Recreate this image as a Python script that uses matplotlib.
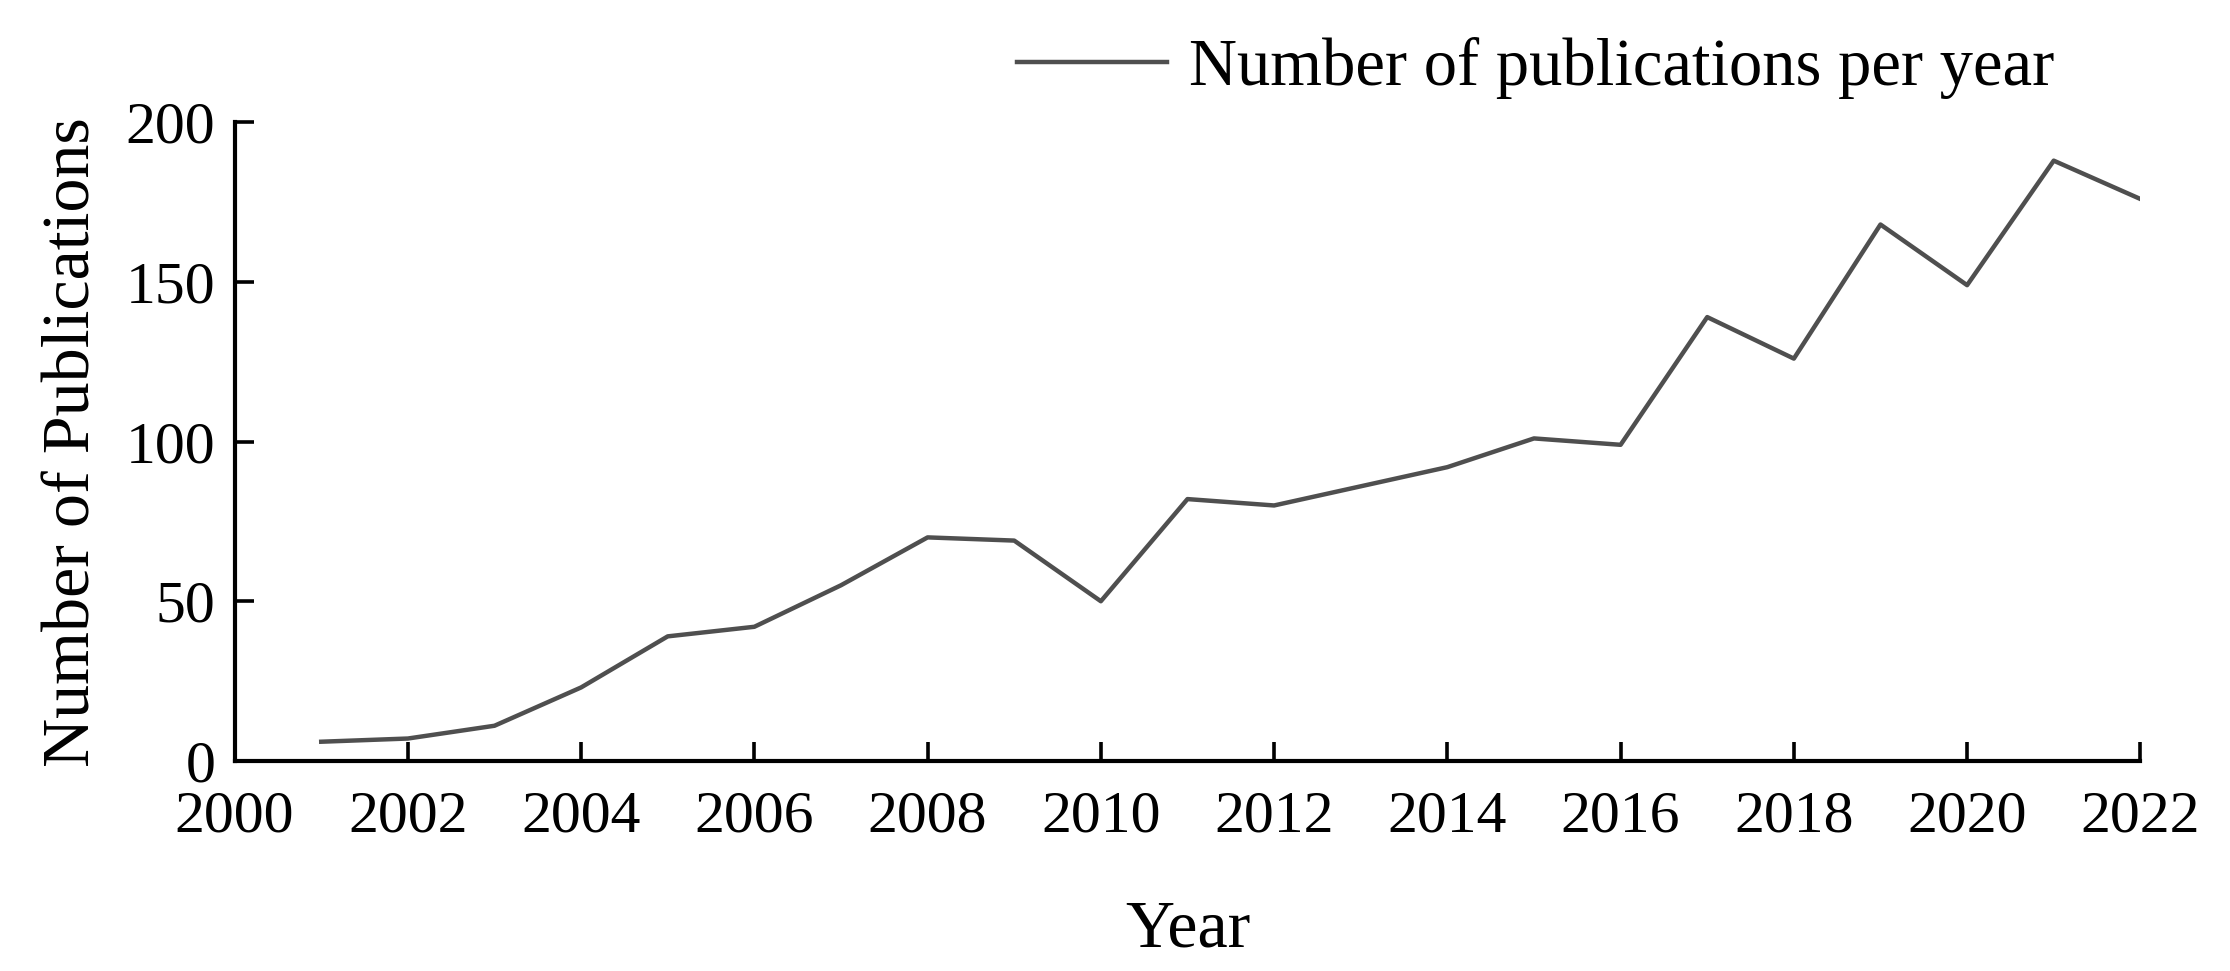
import matplotlib
matplotlib.use("Agg")
import matplotlib.pyplot as plt

years = [2001, 2002, 2003, 2004, 2005, 2006, 2007, 2008, 2009, 2010, 2011,
         2012, 2013, 2014, 2015, 2016, 2017, 2018, 2019, 2020, 2021, 2022]
counts = [6, 7, 11, 23, 39, 42, 55, 70, 69, 50, 82,
          80, 86, 92, 101, 99, 139, 126, 168, 149, 188, 176]

xticks = list(range(2000, 2023, 2))
yticks = [0, 50, 100, 150, 200]

plt.rcParams["font.family"] = ["Liberation Serif", "DejaVu Serif"]

fig = plt.figure(figsize=(22.30, 9.71), dpi=100)
ax = fig.add_axes([0.1052, 0.2164, 0.9598 - 0.1052, 0.874 - 0.2164])

ax.plot(years, counts, color="#4f4f4f", linewidth=3.2,
        label="Number of publications per year")

ax.set_xlim(2000, 2022)
ax.set_ylim(0, 200)
ax.set_xticks(xticks)
ax.set_yticks(yticks)

ax.spines["top"].set_visible(False)
ax.spines["right"].set_visible(False)
for s in ["left", "bottom"]:
    ax.spines[s].set_linewidth(3)

ax.tick_params(axis="both", direction="in", length=14, width=2.6,
               labelsize=43)
ax.tick_params(axis="x", pad=21)
ax.tick_params(axis="y", pad=14)

ax.set_xlabel("Year", fontsize=49, labelpad=40)
ax.set_ylabel("Number of Publications", fontsize=49, labelpad=16)

fig.legend(loc="center left", bbox_to_anchor=(0.456, 0.93),
           frameon=False, fontsize=48, handlelength=2.25,
           handletextpad=0.33, borderpad=0, borderaxespad=0)

fig.savefig("out.png", dpi=100)
